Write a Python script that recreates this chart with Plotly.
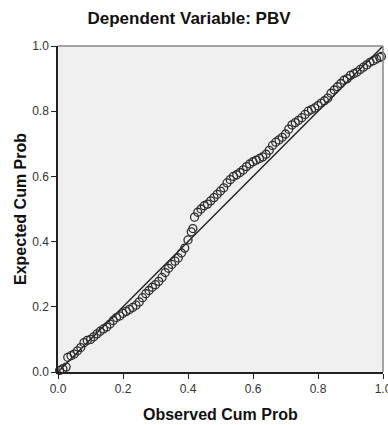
import plotly.graph_objects as go

observed = [0.005, 0.015, 0.025, 0.03, 0.04, 0.05, 0.06, 0.07, 0.08, 0.09,
            0.10, 0.11, 0.12, 0.13, 0.14, 0.15, 0.16, 0.17, 0.18, 0.19,
            0.20, 0.21, 0.22, 0.23, 0.24, 0.25, 0.26, 0.27, 0.28, 0.29,
            0.30, 0.31, 0.32, 0.33, 0.34, 0.35, 0.36, 0.37, 0.38, 0.39,
            0.40, 0.41, 0.415, 0.42, 0.43, 0.44, 0.45, 0.46, 0.47, 0.48,
            0.49, 0.50, 0.51, 0.52, 0.53, 0.54, 0.55, 0.56, 0.57, 0.58,
            0.59, 0.60, 0.61, 0.62, 0.63, 0.64, 0.65, 0.66, 0.67, 0.68,
            0.69, 0.70, 0.71, 0.72, 0.73, 0.74, 0.75, 0.76, 0.77, 0.78,
            0.79, 0.80, 0.81, 0.82, 0.83, 0.84, 0.85, 0.86, 0.87, 0.88,
            0.89, 0.90, 0.91, 0.92, 0.93, 0.94, 0.95, 0.96, 0.97, 0.98,
            0.99, 0.995]
expected = [0.005, 0.01, 0.015, 0.045, 0.05, 0.055, 0.065, 0.075, 0.09, 0.097,
            0.10, 0.108, 0.117, 0.125, 0.132, 0.138, 0.147, 0.158, 0.167, 0.172,
            0.18, 0.186, 0.192, 0.198, 0.205, 0.215, 0.228, 0.24, 0.25, 0.26,
            0.268, 0.278, 0.29, 0.305, 0.318, 0.33, 0.34, 0.35, 0.365, 0.38,
            0.405, 0.43, 0.44, 0.475, 0.49, 0.50, 0.51, 0.515, 0.525, 0.535,
            0.545, 0.555, 0.565, 0.58, 0.59, 0.60, 0.605, 0.612, 0.62, 0.63,
            0.638, 0.645, 0.65, 0.655, 0.66, 0.668, 0.68, 0.695, 0.705, 0.712,
            0.72, 0.73, 0.745, 0.758, 0.765, 0.772, 0.78, 0.79, 0.80, 0.805,
            0.81, 0.817, 0.825, 0.832, 0.84, 0.855, 0.865, 0.875, 0.885, 0.895,
            0.90, 0.91, 0.915, 0.92, 0.928, 0.935, 0.942, 0.95, 0.955, 0.96,
            0.965, 0.968]
ref_line = [0.0, 1.0]
tick_vals = [0.0, 0.2, 0.4, 0.6, 0.8, 1.0]
tick_text = ["0.0", "0.2", "0.4", "0.6", "0.8", "1.0"]

FONT = "Liberation Sans, Arial, sans-serif"

fig = go.Figure()
fig.add_trace(go.Scatter(x=ref_line, y=ref_line, mode="lines",
                         line=dict(color="#1a1a1a", width=1.3),
                         hoverinfo="skip", showlegend=False))
fig.add_trace(go.Scatter(x=observed, y=expected, mode="markers",
                         marker=dict(symbol="circle-open", size=8,
                                     color="#2e2e2e", line=dict(width=1.3)),
                         cliponaxis=False, showlegend=False))

axis_common = dict(range=[0, 1], tickvals=tick_vals, ticktext=tick_text,
                   ticks="outside", ticklen=5, tickwidth=1.3, tickcolor="#222222",
                   showgrid=False, zeroline=False, showline=True,
                   linecolor="#222222", linewidth=1.5, ticklabeloverflow="allow",
                   automargin=False,
                   tickfont=dict(family=FONT, size=12, color="#333333"))
fig.update_xaxes(**axis_common)
fig.update_yaxes(**axis_common)

# grey top and right frame
fig.add_shape(type="line", xref="paper", yref="paper", x0=0, x1=1, y0=1, y1=1,
              line=dict(color="#888888", width=1.5))
fig.add_shape(type="line", xref="paper", yref="paper", x0=1, x1=1, y0=0, y1=1,
              line=dict(color="#888888", width=1.5))

fig.add_annotation(text="<b>Observed Cum Prob</b>", xref="paper", yref="paper",
                   x=0.5, y=0, xanchor="center", yanchor="middle", yshift=-42,
                   showarrow=False, font=dict(family=FONT, size=16, color="#111111"))
fig.add_annotation(text="<b>Expected Cum Prob</b>", xref="paper", yref="paper",
                   x=0, y=0.5, xanchor="center", yanchor="middle", xshift=-38,
                   textangle=-90, showarrow=False,
                   font=dict(family=FONT, size=16, color="#111111"))

fig.update_layout(
    width=388, height=425,
    margin=dict(l=58, r=5, t=46, b=53, autoexpand=False),
    paper_bgcolor="white", plot_bgcolor="#F0F0F0",
    title=dict(text="<b>Dependent Variable: PBV</b>", x=189 / 388, xanchor="center",
               y=1 - 18 / 425, yanchor="middle", yref="container",
               font=dict(family=FONT, size=17, color="#111111")),
)

fig.write_html("out.html", config={"displayModeBar": False},
               post_script="document.body.style.margin='0px';document.body.style.overflow='hidden';")
